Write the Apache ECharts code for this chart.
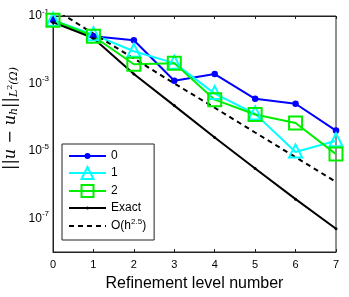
<!DOCTYPE html>
<html><head><meta charset="utf-8">
<script src="https://cdn.jsdelivr.net/npm/echarts@6/dist/echarts.min.js"></script>
<style>html,body{margin:0;padding:0;background:#fff}#c{width:349px;height:297px}</style>
</head><body><div id="c"></div>
<script>
var levels = [0, 1, 2, 3, 4, 5, 6, 7];
var s0 = [0.075, 0.025, 0.019, 1.2e-3, 1.9e-3, 3.5e-4, 2.5e-4, 4e-5];
var s1 = [0.075, 0.028, 9e-3, 4e-3, 5e-4, 1.25e-4, 9.3e-6, 2e-5];
var s2 = [0.075, 0.025, 3.7e-3, 4e-3, 3.3e-4, 1.2e-4, 6.7e-5, 8e-6];
var exact = [0.065, 0.022, 1.9e-3, 2.2e-4, 2.5e-5, 3e-6, 3.7e-7, 4.9e-8];
var ref25 = [0.17, 0.03, 5.5e-3, 1e-3, 1.9e-4, 3.5e-5, 6.5e-6, 1.2e-6];
var names = ['0', '1', '2', 'Exact', 'O(h2.5)'];

function pairs(v){ return levels.map(function(x,i){ return [x, v[i]]; }); }
var font = 'Liberation Sans, Arial, sans-serif';
var serif = 'DejaVu Serif, Liberation Serif, serif';
var dotPath = 'path://M0,0M10,10M3.75,5A1.25,1.25,0,1,1,6.25,5A1.25,1.25,0,1,1,3.75,5Z';
var circPath = 'path://M0,0M10,10M2.5,5A2.5,2.5,0,1,1,7.5,5A2.5,2.5,0,1,1,2.5,5Z';
var chart = echarts.init(document.getElementById('c'));
chart.setOption({
  animation: false,
  backgroundColor: '#fff',
  grid: {left: 53, right: 13, top: 16, bottom: 37, show: true, borderColor: '#222', borderWidth: 1},
  xAxis: [{
    type: 'value', min: 0, max: 7, interval: 1, position: 'bottom',
    name: 'Refinement level number', nameLocation: 'middle', nameGap: 24,
    nameTextStyle: {fontFamily: font, fontSize: 16, color: '#000'},
    axisLine: {lineStyle: {color: '#222'}},
    axisTick: {inside: true, length: 3, lineStyle: {color: '#222'}},
    axisLabel: {fontFamily: font, fontSize: 11, color: '#000', margin: 7},
    splitLine: {show: false}
  }, {
    type: 'value', min: 0, max: 7, interval: 1, position: 'top',
    axisLine: {lineStyle: {color: '#222'}},
    axisTick: {inside: true, length: 3, lineStyle: {color: '#222'}},
    axisLabel: {show: false}, splitLine: {show: false}
  }],
  yAxis: [{
    type: 'log', logBase: 10, min: 1e-8, max: 1e-1, position: 'left',
    axisLine: {show: true, lineStyle: {color: '#222'}},
    axisTick: {show: false},
    axisLabel: {
      fontFamily: font, fontSize: 11, color: '#000', margin: 4,
      formatter: function(v){
        var e = Math.round(Math.log10(v));
        if (Math.abs(e) % 2 === 0) return '';
        return '{b|10}{s|' + e + '}';
      },
      rich: {b: {fontFamily: font, fontSize: 12, color: '#000'},
             s: {fontFamily: font, fontSize: 8, color: '#000', padding: [0, 0, 9, 0]}}
    },
    splitLine: {show: false}
  }, {
    type: 'log', logBase: 10, min: 1e-8, max: 1e-1, position: 'right',
    axisLine: {show: true, lineStyle: {color: '#222'}},
    axisTick: {show: false}, axisLabel: {show: false}, splitLine: {show: false}
  }],
  graphic: [{
    type: 'text', left: 3, top: 67,
    rotation: Math.PI / 2,
    style: {
      text: '{n|||u \u2212 u}{h|h}{n|||}{l|L}{t|2}{l|(\u03A9)}',
      rich: {
        n: {fontFamily: serif, fontStyle: 'italic', fontSize: 16, color: '#000', padding: [0, 0, 6, 0]},
        h: {fontFamily: serif, fontStyle: 'italic', fontSize: 11, color: '#000'},
        l: {fontFamily: serif, fontStyle: 'italic', fontSize: 11, color: '#000'},
        t: {fontFamily: serif, fontSize: 8, color: '#000', padding: [0, 0, 8, 0]}
      }
    }
  }],
  legend: {
    orient: 'vertical', left: 62, top: 144,
    padding: [6, 8, 8, 6],
    borderColor: '#222', borderWidth: 1, backgroundColor: '#fff',
    itemWidth: 37, itemHeight: 15, itemGap: 4,
    data: [
      {name: '0'}, {name: '1'}, {name: '2'}, {name: 'Exact'},
      {name: 'O(h2.5)', itemStyle: {opacity: 0}}
    ],
    textStyle: {fontFamily: font, fontSize: 12, color: '#000',
      rich: {n: {fontFamily: font, fontSize: 12, color: '#000'},
             s: {fontFamily: font, fontSize: 8, color: '#000', padding: [0, 0, 8, 0]}}},
    formatter: function(n){
      if (n === 'O(h2.5)') return '{n|O(h}{s|2.5}{n|)}';
      return n;
    }
  },
  series: [{
    name: '0', type: 'line', data: pairs(s0),
    symbol: circPath, symbolSize: 13,
    lineStyle: {color: '#0000ff', width: 2}, itemStyle: {color: '#0000ff', borderWidth: 0}
  }, {
    name: '1', type: 'line', data: pairs(s1),
    symbol: 'triangle', symbolSize: 13, symbolOffset: [0, -1],
    lineStyle: {color: '#00ffff', width: 2},
    itemStyle: {color: 'rgba(255,255,255,0)', borderColor: '#00ffff', borderWidth: 2}
  }, {
    name: '2', type: 'line', data: pairs(s2),
    symbol: 'rect', symbolSize: 13,
    lineStyle: {color: '#00ee00', width: 2},
    itemStyle: {color: 'rgba(255,255,255,0)', borderColor: '#00ee00', borderWidth: 2}
  }, {
    name: 'Exact', type: 'line', data: pairs(exact),
    symbol: dotPath, symbolSize: 12,
    lineStyle: {color: '#000', width: 2}, itemStyle: {color: '#000', borderWidth: 0}
  }, {
    name: 'O(h2.5)', type: 'line', data: pairs(ref25),
    symbol: 'none', clip: true,
    lineStyle: {color: '#000', width: 2, type: [5, 4]}, itemStyle: {color: '#000'}
  }]
});
</script></body></html>
